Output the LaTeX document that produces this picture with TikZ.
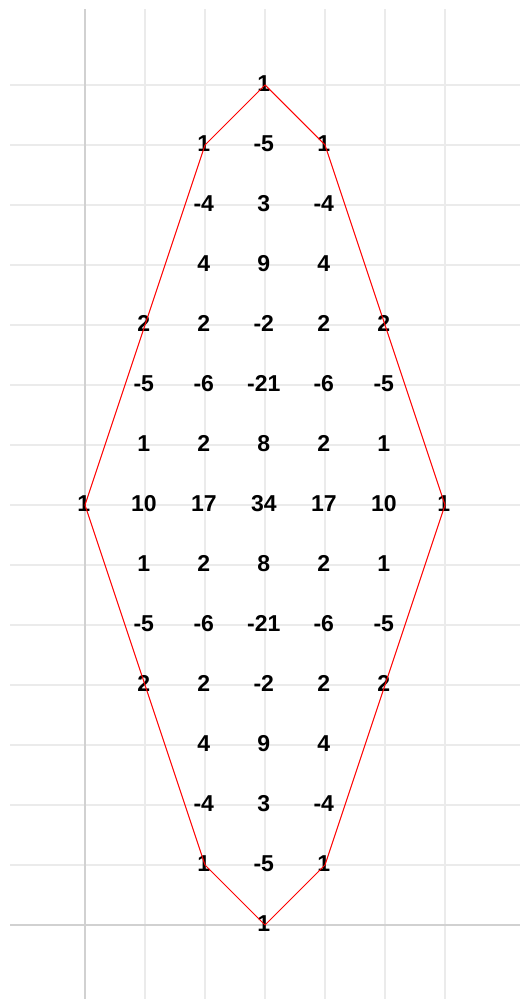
\documentclass[tikz,border=0pt]{standalone}
\usepackage{fontspec}
\setmainfont{Liberation Sans}
\begin{document}
\begin{tikzpicture}[x=1cm,y=1cm,
  gridline/.style={draw=black!8,line width=0.6pt},
  axisline/.style={draw=black!18,line width=0.7pt},
  num/.style={font=\bfseries\fontsize{10.9}{12}\selectfont,inner sep=0pt,anchor=center,text=black},
  outline/.style={draw=red,line width=0.5pt,line join=round}]
\useasboundingbox (-1.4167,-1.2333) rectangle (7.25,15.4167);
% grid
\foreach \i in {1,...,6} \draw[gridline] (\i,-1.2333) -- (\i,15.27);
\foreach \j in {1,...,14} \draw[gridline] (-1.25,\j) -- (7.25,\j);
\draw[axisline] (0,-1.2333) -- (0,15.27);
\draw[axisline] (-1.25,0) -- (7.25,0);
% numbers
\foreach \i/\j/\v in {
  3/14/1,
  2/13/1, 3/13/-5, 4/13/1,
  2/12/-4, 3/12/3, 4/12/-4,
  2/11/4, 3/11/9, 4/11/4,
  1/10/2, 2/10/2, 3/10/-2, 4/10/2, 5/10/2,
  1/9/-5, 2/9/-6, 3/9/-21, 4/9/-6, 5/9/-5,
  1/8/1, 2/8/2, 3/8/8, 4/8/2, 5/8/1,
  0/7/1, 1/7/10, 2/7/17, 3/7/34, 4/7/17, 5/7/10, 6/7/1,
  1/6/1, 2/6/2, 3/6/8, 4/6/2, 5/6/1,
  1/5/-5, 2/5/-6, 3/5/-21, 4/5/-6, 5/5/-5,
  1/4/2, 2/4/2, 3/4/-2, 4/4/2, 5/4/2,
  2/3/4, 3/3/9, 4/3/4,
  2/2/-4, 3/2/3, 4/2/-4,
  2/1/1, 3/1/-5, 4/1/1,
  3/0/1}
  \node[num] (n-\i-\j) at (\i-0.02,\j+0.025) {\v};
% outline
\foreach \i/\j in {3/14,4/13,5/10,6/7,5/4,4/1,3/0,2/1,1/4,0/7,1/10,2/13}
  \coordinate (p-\i-\j) at (\i,\j);
\draw[outline] (p-3-14) -- (p-4-13) -- (p-5-10) -- (p-6-7) -- (p-5-4) -- (p-4-1)
  -- (p-3-0) -- (p-2-1) -- (p-1-4) -- (p-0-7) -- (p-1-10) -- (p-2-13) -- cycle;
\end{tikzpicture}
\end{document}
